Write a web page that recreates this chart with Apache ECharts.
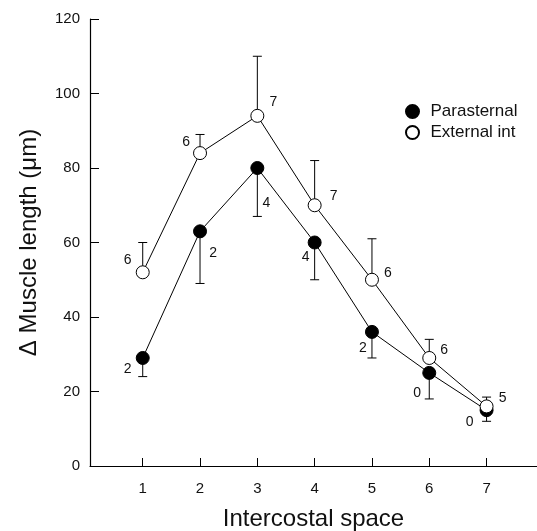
<!DOCTYPE html>
<html>
<head>
<meta charset="utf-8">
<script src="https://cdn.jsdelivr.net/npm/echarts@6/dist/echarts.min.js"></script>
<style>
  html, body { margin: 0; padding: 0; background: #fff; }
  #chart { width: 537px; height: 531px; }
</style>
</head>
<body>
<div id="chart"></div>
<script>
// intercostal spaces
var spaces = [1, 2, 3, 4, 5, 6, 7];

// parasternal: mean, lower error end, n
var paraMean = [29, 63, 80, 60, 36, 25, 15];
var paraLow = [24, 49, 67, 50, 29, 18, 12];
var paraN = ['2', '2', '4', '4', '2', '0', '0'];

// external intercostal: mean, upper error end, n
var extMean = [52, 84, 94, 70, 50, 29, 16];
var extHigh = [60, 89, 110, 82, 61, 34, 18.5];
var extN = ['6', '6', '7', '7', '6', '6', '5'];

// label offsets (px) for the n values
var paraOff = [[-15, 11], [13, 22], [9, 35], [-9, 15], [-9, 16], [-12, 20], [-17, 12]];
var extOff = [[-15, -12], [-14, -11], [16, -14], [19, -9], [16, -7], [15, -8], [16, -8]];

var font = 'Liberation Sans, Arial, Helvetica, sans-serif';

function points(mean, n, off) {
    return spaces.map(function (s, i) {
        return {
            value: [s, mean[i]],
            label: {
                show: true,
                formatter: n[i],
                position: 'inside',
                offset: off[i]
            }
        };
    });
}

function bars(mean, end) {
    return spaces.map(function (s, i) {
        return [s, mean[i], end[i]];
    });
}

function renderBar(params, api) {
    var p0 = api.coord([api.value(0), api.value(1)]);
    var p1 = api.coord([api.value(0), api.value(2)]);
    var w = 4.5;
    var st = { stroke: '#000', lineWidth: 1 };
    return {
        type: 'group',
        children: [
            { type: 'line', shape: { x1: p0[0], y1: p0[1], x2: p1[0], y2: p1[1] }, style: st },
            { type: 'line', shape: { x1: p1[0] - w, y1: p1[1], x2: p1[0] + w, y2: p1[1] }, style: st }
        ]
    };
}

var myChart = echarts.init(document.getElementById('chart'));
var option = {
    animation: false,
    backgroundColor: '#fff',
    textStyle: { fontFamily: font, color: '#111' },
    grid: { left: 90, right: 0, top: 19, bottom: 65, outerBoundsMode: 'none', containLabel: false },
    legend: {
        orient: 'vertical',
        left: 400,
        top: 98,
        itemWidth: 26,
        itemHeight: 13,
        itemGap: 4,
        textStyle: { fontSize: 17, color: '#111', fontFamily: font },
        data: [
            { name: 'Parasternal', icon: 'circle' },
            { name: 'External int', icon: 'circle' }
        ]
    },
    xAxis: {
        type: 'value',
        min: 0.08,
        max: 7.88,
        name: 'Intercostal space',
        nameLocation: 'middle',
        nameGap: 41,
        nameTextStyle: { fontSize: 24, color: '#111', fontFamily: font },
        axisLine: { lineStyle: { color: '#000', width: 1.2 } },
        axisTick: { inside: true, length: 8, customValues: spaces, lineStyle: { color: '#000' } },
        axisLabel: { customValues: spaces, fontSize: 15, color: '#111', margin: 15 },
        splitLine: { show: false }
    },
    yAxis: {
        type: 'value',
        min: 0,
        max: 120,
        interval: 20,
        name: 'Δ Muscle length (μm)',
        nameLocation: 'middle',
        nameGap: 49,
        nameRotate: 90,
        nameTextStyle: { fontSize: 24, color: '#111', fontFamily: font },
        axisLine: { show: true, lineStyle: { color: '#000', width: 1.2 } },
        axisTick: { show: true, inside: true, length: 9, lineStyle: { color: '#000' } },
        axisLabel: { fontSize: 15, color: '#111', margin: 10 },
        splitLine: { show: false }
    },
    series: [
        {
            name: 'paraErr',
            type: 'custom',
            renderItem: renderBar,
            data: bars(paraMean, paraLow),
            z: 1,
            silent: true
        },
        {
            name: 'extErr',
            type: 'custom',
            renderItem: renderBar,
            data: bars(extMean, extHigh),
            z: 1,
            silent: true
        },
        {
            name: 'Parasternal',
            type: 'line',
            data: points(paraMean, paraN, paraOff),
            symbol: 'circle',
            symbolSize: 13,
            lineStyle: { color: '#000', width: 1 },
            itemStyle: { color: '#000', borderColor: '#000', borderWidth: 1 },
            label: { fontSize: 14, color: '#111' },
            z: 3
        },
        {
            name: 'External int',
            type: 'line',
            data: points(extMean, extN, extOff),
            symbol: 'circle',
            symbolSize: 13,
            lineStyle: { color: '#000', width: 1 },
            itemStyle: { color: '#fff', borderColor: '#000', borderWidth: 1 },
            label: { fontSize: 14, color: '#111' },
            z: 4
        }
    ]
};
myChart.setOption(option);
</script>
</body>
</html>
